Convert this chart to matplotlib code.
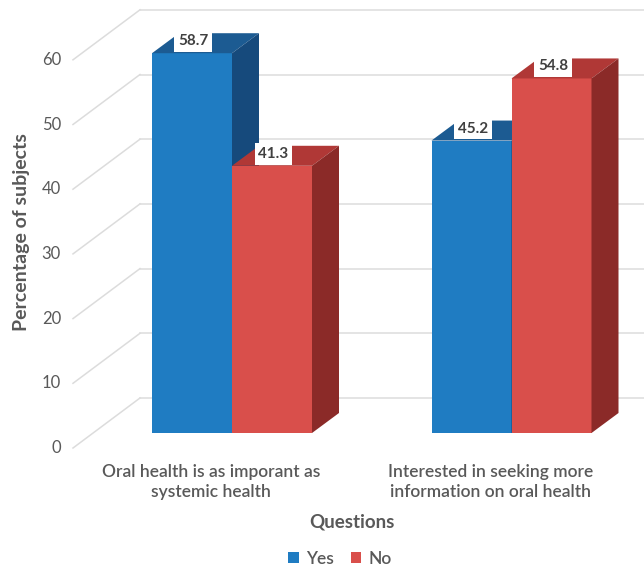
import matplotlib
matplotlib.use('Agg')
import matplotlib.pyplot as plt
from matplotlib.patches import Polygon, Rectangle

# data
questions = ['Oral health is as imporant as\nsystemic health',
             'Interested in seeking more\ninformation on oral health']
series = ['Yes', 'No']
yes_vals = [58.7, 45.2]
no_vals = [41.3, 54.8]
yticks = [0, 10, 20, 30, 40, 50, 60]

front = {'Yes': '#1f7cc2', 'No': '#d94f4b'}
top = {'Yes': '#1c5b92', 'No': '#b03836'}
side = {'Yes': '#164a7c', 'No': '#8b2a28'}
gray = '#595959'

plt.rcParams['font.family'] = ['Lato', 'DejaVu Sans']

W, H = 644, 569
fig = plt.figure(figsize=(W / 100, H / 100), dpi=100)
ax = fig.add_axes([0, 0, 1, 1])
ax.set_axis_off()

# pixel geometry -> data units
px_cat = 279.5          # px per category
px_val = 6.47           # px per value unit
x0_px, y0_px = 232, 433  # centre of group 0, value 0 (front of bars)
ax.set_xlim(-x0_px / px_cat, (W - x0_px) / px_cat)
ax.set_ylim(-(H - y0_px) / px_val, y0_px / px_val)

w = 80 / px_cat                        # bar width
ddx, ddy = 27 / px_cat, 20 / px_val    # bar depth
wall_dx, wall_dy = 47 / px_cat, 35 / px_val
lab_dx, lab_dy = -20 / px_cat, -15 / px_val
wall_left = (140 - x0_px) / px_cat

# back wall gridlines + diagonals to the tick labels
xmax = ax.get_xlim()[1]
for v in yticks:
    ax.plot([wall_left, xmax], [v + wall_dy, v + wall_dy], color='#dcdcdc', lw=1.1, zorder=1)
    ax.plot([wall_left - (wall_dx - lab_dx), wall_left],
            [v + lab_dy, v + wall_dy], color='#dcdcdc', lw=1.1, zorder=1)
    ax.text(wall_left - (wall_dx - lab_dx) - 12 / px_cat, v + lab_dy, str(v),
            ha='right', va='center', fontsize=12, color=gray)

# 3d bars
vals = {'Yes': yes_vals, 'No': no_vals}
for i in range(len(questions)):
    for j, s in enumerate(series):
        v = vals[s][i]
        xl = i - w + j * w
        xr = xl + w
        ax.add_patch(Rectangle((xl, 0), w, v, facecolor=front[s], edgecolor='none', zorder=2))
        ax.add_patch(Polygon([(xl, v), (xr, v), (xr + ddx, v + ddy), (xl + ddx, v + ddy)],
                             facecolor=top[s], edgecolor='none', zorder=2))
        ax.add_patch(Polygon([(xr, 0), (xr + ddx, ddy), (xr + ddx, v + ddy), (xr, v)],
                             facecolor=side[s], edgecolor='none', zorder=2))
        ax.text(xl + w / 2 + 0.005, v + ddy * 0.6, '%.1f' % v, ha='center', va='center',
                fontsize=11, fontweight='bold', color='#404040', zorder=5,
                bbox=dict(boxstyle='square,pad=0.25', facecolor='white', edgecolor='none'))

# category labels
for i, q in enumerate(questions):
    ax.text(i - 21 / px_cat, -(482 - y0_px) / px_val, q, ha='center', va='center',
            fontsize=12.5, color=gray, fontweight='semibold', linespacing=1.25)

# axis titles
ax.text(-(x0_px - 21) / px_cat, (y0_px - 232) / px_val, 'Percentage of subjects',
        rotation=90, ha='center', va='center', fontsize=14, fontweight='bold', color=gray)
ax.text((352 - x0_px) / px_cat, -(522 - y0_px) / px_val, 'Questions',
        ha='center', va='center', fontsize=13.5, fontweight='bold', color=gray)

# legend
handles = [Rectangle((0, 0), 1, 1, facecolor=front[s]) for s in series]
fig.legend(handles, series, loc='center', bbox_to_anchor=(340 / W, 1 - 559 / H), ncol=2,
           frameon=False, fontsize=12.5, handlelength=0.6, handleheight=0.6,
           handletextpad=0.4, columnspacing=1.0, labelcolor=gray,
           prop={'weight': 'semibold', 'size': 12.5})

fig.savefig('out.png', dpi=100, facecolor='white')
